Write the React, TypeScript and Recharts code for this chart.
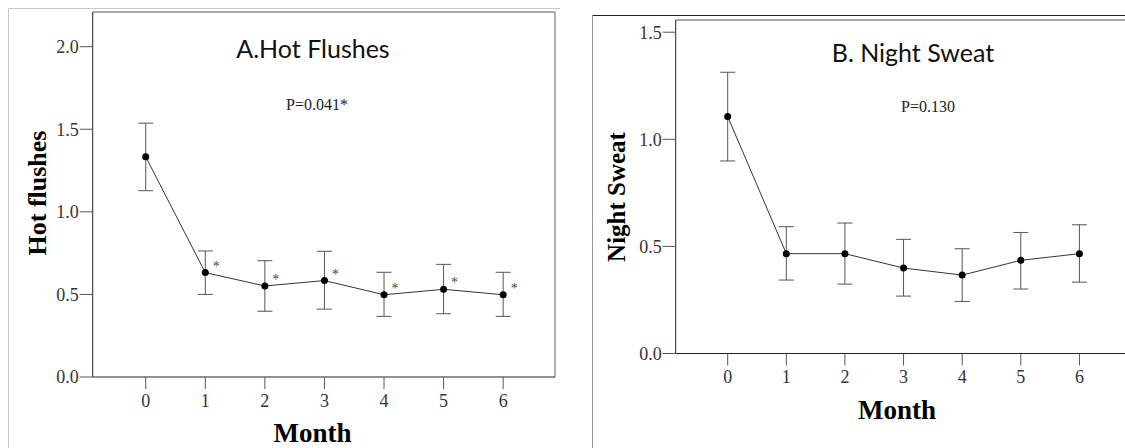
import { ComposedChart, Line, XAxis, YAxis, ErrorBar, ReferenceLine } from "recharts";

// months on the x axis
const months = [0, 1, 2, 3, 4, 5, 6];

// A. Hot flushes: mean and the ends of the error bars
const hotMean = [1.333, 0.632, 0.551, 0.584, 0.498, 0.531, 0.498];
const hotUpper = [1.537, 0.763, 0.704, 0.761, 0.634, 0.682, 0.634];
const hotLower = [1.128, 0.5, 0.398, 0.411, 0.367, 0.383, 0.367];
const hotStar = [false, true, true, true, true, true, true];
const hotTicks = [0, 0.5, 1, 1.5, 2];

// B. Night sweat
const sweatMean = [1.106, 0.466, 0.466, 0.399, 0.366, 0.435, 0.466];
const sweatUpper = [1.313, 0.592, 0.609, 0.533, 0.489, 0.565, 0.601];
const sweatLower = [0.899, 0.343, 0.324, 0.268, 0.243, 0.301, 0.333];
const sweatTicks = [0, 0.5, 1, 1.5];

const SERIF = "'Liberation Serif', 'Times New Roman', serif";
const SANS = "Lato, 'Open Sans', sans-serif";

function rows(mean: number[], upper: number[], lower: number[], star?: boolean[]) {
  return months.map((m, i) => ({
    month: m,
    mean: mean[i],
    err: [mean[i] - lower[i], upper[i] - mean[i]],
    star: star ? star[i] : false,
  }));
}

const hotData = rows(hotMean, hotUpper, hotLower, hotStar);
const sweatData = rows(sweatMean, sweatUpper, sweatLower);

function StarLabel(props: any) {
  const { x, y, index } = props;
  if (!hotData[index] || !hotData[index].star) return <g />;
  return (
    <text
      x={x + 11}
      y={y - 2}
      textAnchor="middle"
      fontSize={14}
      fill="#444"
      fontFamily={SERIF}
      style={{ WebkitFontSmoothing: "antialiased" }}
    >
      *
    </text>
  );
}

interface PanelProps {
  data: ReturnType<typeof rows>;
  width: number;
  height: number;
  margin: { top: number; right: number; left: number; bottom: number };
  yWidth: number;
  xHeight: number;
  xTickMargin: number;
  xDomain: [number, number];
  yDomain: [number, number];
  yTicks: number[];
  stars?: boolean;
}

function Panel(p: PanelProps) {
  const tickStyle = { fill: "#333", fontSize: 18, fontFamily: SERIF };
  return (
    <ComposedChart width={p.width} height={p.height} data={p.data} margin={p.margin}>
      <XAxis
        type="number"
        dataKey="month"
        domain={p.xDomain}
        ticks={months}
        allowDataOverflow
        height={p.xHeight}
        tickSize={12}
        tickMargin={p.xTickMargin}
        tick={tickStyle}
        tickLine={{ stroke: "#555" }}
        axisLine={{ stroke: "#222" }}
      />
      <YAxis
        type="number"
        domain={p.yDomain}
        ticks={p.yTicks}
        allowDataOverflow
        width={p.yWidth}
        tickSize={13}
        tickMargin={1}
        tick={tickStyle}
        tickFormatter={(v: number) => v.toFixed(1)}
        tickLine={{ stroke: "#555" }}
        axisLine={{ stroke: "#222" }}
      />
      <ReferenceLine y={p.yDomain[1]} stroke="#555" />
      <ReferenceLine x={p.xDomain[1]} stroke="#666" />
      <Line
        dataKey="mean"
        stroke="#333"
        strokeWidth={1}
        dot={{ r: 3.5, fill: "#000", stroke: "#000", strokeWidth: 0 }}
        activeDot={false}
        isAnimationActive={false}
        label={p.stars ? StarLabel : false}
      >
        <ErrorBar dataKey="err" direction="y" width={7.5} stroke="#555" strokeWidth={1} />
      </Line>
    </ComposedChart>
  );
}

export default function App() {
  return (
    <div
      style={{
        position: "absolute",
        left: 0,
        top: 0,
        width: 1125,
        height: 448,
        overflow: "hidden",
        background: "#fff",
      }}
    >
      <div style={{ position: "absolute", left: 0, top: 0 }}>
        <Panel
          data={hotData}
          width={560}
          height={448}
          margin={{ top: 12, right: 5, left: 0, bottom: 0 }}
          yWidth={92.7}
          xHeight={71}
          xTickMargin={5}
          xDomain={[-0.89, 6.87]}
          yDomain={[0, 2.21]}
          yTicks={hotTicks}
          stars
        />
      </div>
      <div style={{ position: "absolute", left: 565, top: 0 }}>
        <Panel
          data={sweatData}
          width={575}
          height={448}
          margin={{ top: 20, right: 9, left: 0, bottom: 0 }}
          yWidth={110.7}
          xHeight={94.5}
          xTickMargin={5}
          xDomain={[-0.887, 6.88]}
          yDomain={[0, 1.557]}
          yTicks={sweatTicks}
        />
      </div>
      <svg
        width={1125}
        height={448}
        style={{ position: "absolute", left: 0, top: 0, pointerEvents: "none" }}
      >
        {/* outer frames */}
        <line x1={8.5} y1={8.5} x2={560} y2={8.5} stroke="#c8c8c8" />
        <line x1={8.5} y1={8.5} x2={8.5} y2={448} stroke="#c8c8c8" />
        <line x1={592.5} y1={15.5} x2={1125} y2={15.5} stroke="#222" />
        <line x1={592.5} y1={15.5} x2={592.5} y2={448} stroke="#999" />

        <text x={313} y={58} textAnchor="middle" fontSize={25} fontFamily={SANS} fill="#111">
          A.Hot Flushes
        </text>
        <text x={317} y={110} textAnchor="middle" fontSize={16} fontFamily={SERIF} fill="#222">
          P=0.041*
        </text>
        <text
          transform="translate(46, 193) rotate(-90)"
          textAnchor="middle"
          fontSize={26}
          fontWeight="bold"
          fontFamily={SERIF}
          fill="#000"
        >
          Hot flushes
        </text>
        <text x={312.5} y={442} textAnchor="middle" fontSize={27} fontWeight="bold" fontFamily={SERIF} fill="#000">
          Month
        </text>

        <text x={913} y={62} textAnchor="middle" fontSize={25} fontFamily={SANS} fill="#111">
          B. Night Sweat
        </text>
        <text x={928} y={112} textAnchor="middle" fontSize={16} fontFamily={SERIF} fill="#222">
          P=0.130
        </text>
        <text
          transform="translate(625, 197) rotate(-90)"
          textAnchor="middle"
          fontSize={25}
          fontWeight="bold"
          fontFamily={SERIF}
          fill="#000"
        >
          Night Sweat
        </text>
        <text x={897} y={419} textAnchor="middle" fontSize={27} fontWeight="bold" fontFamily={SERIF} fill="#000">
          Month
        </text>
      </svg>
    </div>
  );
}
